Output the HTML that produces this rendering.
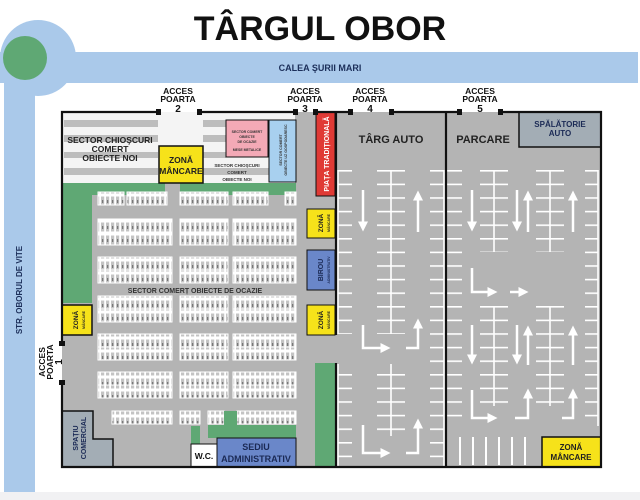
<!DOCTYPE html>
<html><head><meta charset="utf-8"><style>
html,body{margin:0;padding:0;background:#fff;}
svg{display:block;font-family:"Liberation Sans",sans-serif;font-weight:bold;}
</style></head><body>
<svg width="640" height="500" viewBox="0 0 640 500" xmlns="http://www.w3.org/2000/svg">
<defs>
<pattern id="stub" patternUnits="userSpaceOnUse" width="200" height="13.6" y="170"><rect x="0" y="0" width="200" height="1.6" fill="#fff"/></pattern>
<pattern id="stall" patternUnits="userSpaceOnUse" width="5" height="13"><rect width="5" height="13" fill="#fff"/><rect x="1" y="1.5" width="3.2" height="10" fill="#c4c4c4"/><rect x="2.2" y="5" width="1" height="3" fill="#666"/></pattern>
<marker id="ah" markerWidth="4" markerHeight="4" refX="1" refY="2" orient="auto" markerUnits="strokeWidth"><path d="M0,0 L4,2 L0,4z" fill="#fff"/></marker>
</defs>
<rect width="640" height="500" fill="#fff"/>
<rect x="0" y="492" width="640" height="8" fill="#f1f1f3"/>
<!-- roads -->
<rect x="0" y="52" width="638" height="31" fill="#aac9ea"/>
<rect x="4" y="50" width="31" height="442" fill="#aac9ea"/>
<circle cx="38" cy="58" r="38" fill="#aac9ea"/>
<circle cx="25" cy="58" r="22" fill="#5fa874"/>
<text x="320" y="40" font-size="34" text-anchor="middle" fill="#111">TÂRGUL OBOR</text>
<text x="320" y="71" font-size="9" text-anchor="middle" fill="#1c2f5a">CALEA ŞURII MARI</text>
<text transform="translate(22,290) rotate(-90)" font-size="8" text-anchor="middle" fill="#1c2f5a">STR. OBORUL DE VITE</text>

<!-- ground -->
<rect x="62" y="112" width="539" height="355" fill="#b4b4b4"/>
<rect x="62" y="112" width="233" height="71" fill="#f4f4f4"/>
<g fill="#bdbdbd">
<rect x="64" y="120" width="94" height="7"/><rect x="64" y="135" width="94" height="7"/><rect x="64" y="152" width="94" height="6"/><rect x="64" y="168" width="94" height="7"/>
<rect x="203" y="120" width="23" height="7"/><rect x="203" y="135" width="23" height="7"/><rect x="203" y="152" width="23" height="6"/><rect x="203" y="168" width="66" height="7"/>
</g>
<rect x="62" y="183" width="253" height="12" fill="#5fa874"/>
<rect x="165" y="183" width="15" height="12" fill="#b4b4b4"/>
<rect x="62" y="183" width="30" height="120" fill="#5fa874"/>
<rect x="296" y="112" width="19" height="355" fill="#b4b4b4"/>
<rect x="315" y="363" width="20" height="104" fill="#5fa874"/>

<text x="110" y="143" font-size="8.5" text-anchor="middle" fill="#222">SECTOR CHIOŞCURI</text>
<text x="110" y="152" font-size="8.5" text-anchor="middle" fill="#222">COMERT</text>
<text x="110" y="161" font-size="8.5" text-anchor="middle" fill="#222">OBIECTE NOI</text>
<text x="237" y="167" font-size="4.5" text-anchor="middle" fill="#333">SECTOR CHIOŞCURI</text>
<text x="237" y="174" font-size="4.5" text-anchor="middle" fill="#333">COMERT</text>
<text x="237" y="181" font-size="4.5" text-anchor="middle" fill="#333">OBIECTE NOI</text>

<rect x="159" y="146" width="44" height="37" fill="#f6e21a" stroke="#111" stroke-width="1.5"/>
<text x="181" y="163" font-size="8.5" text-anchor="middle" fill="#222">ZONĂ</text>
<text x="181" y="174" font-size="8.5" text-anchor="middle" fill="#222">MÂNCARE</text>
<rect x="226" y="120" width="42" height="37" fill="#f3a9b6" stroke="#111" stroke-width="1"/>
<text x="247" y="133" font-size="3.5" text-anchor="middle" fill="#333">SECTOR COMERT</text>
<text x="247" y="138" font-size="3.5" text-anchor="middle" fill="#333">OBIECTE</text>
<text x="247" y="143" font-size="3.5" text-anchor="middle" fill="#333">DE OCAZIE</text>
<text x="247" y="151" font-size="3.5" text-anchor="middle" fill="#333">MESE METALICE</text>
<rect x="269" y="120" width="27" height="62" fill="#a8d0ef" stroke="#111" stroke-width="1"/>
<text transform="translate(282,150) rotate(-90)" font-size="3.6" text-anchor="middle" fill="#333">SECTOR COMERT</text>
<text transform="translate(287,150) rotate(-90)" font-size="3.6" text-anchor="middle" fill="#333">OBIECTE UZ GOSPODARESC</text>

<rect x="316" y="112" width="19" height="84" fill="#e03a35" stroke="#111" stroke-width="1"/>
<text transform="translate(329,154) rotate(-90)" font-size="7" text-anchor="middle" fill="#fff">PIAȚA TRADIȚIONALĂ</text>
<rect x="307" y="209" width="28" height="29" fill="#f6e21a" stroke="#111" stroke-width="1"/>
<text transform="translate(323,223) rotate(-90)" font-size="6.5" text-anchor="middle" fill="#222">ZONĂ</text>
<text transform="translate(330,223) rotate(-90)" font-size="3.5" text-anchor="middle" fill="#222">MÂNCARE</text>
<rect x="307" y="250" width="28" height="40" fill="#6a87c9" stroke="#111" stroke-width="1"/>
<text transform="translate(323,270) rotate(-90)" font-size="7" text-anchor="middle" fill="#1b2a55">BIROU</text>
<text transform="translate(330,270) rotate(-90)" font-size="3.5" text-anchor="middle" fill="#1b2a55">ADMINISTRATIV</text>
<rect x="307" y="305" width="28" height="30" fill="#f6e21a" stroke="#111" stroke-width="1"/>
<text transform="translate(323,320) rotate(-90)" font-size="6.5" text-anchor="middle" fill="#222">ZONĂ</text>
<text transform="translate(330,320) rotate(-90)" font-size="3.5" text-anchor="middle" fill="#222">MÂNCARE</text>
<rect x="62" y="305" width="30" height="30" fill="#f6e21a" stroke="#111" stroke-width="1.5"/>
<text transform="translate(78,320) rotate(-90)" font-size="6.5" text-anchor="middle" fill="#222">ZONĂ</text>
<text transform="translate(85,320) rotate(-90)" font-size="3.5" text-anchor="middle" fill="#222">MÂNCARE</text>

<!-- stalls -->
<g fill="url(#stall)" stroke="#fff" stroke-width="1">
<rect x="98" y="192" width="26" height="13"/><rect x="127" y="192" width="40" height="13"/><rect x="180" y="192" width="48" height="13"/><rect x="233" y="192" width="35" height="13"/><rect x="285" y="192" width="11" height="13"/>
<rect x="98" y="219" width="74" height="13"/><rect x="98" y="232" width="74" height="13"/><rect x="180" y="219" width="48" height="13"/><rect x="180" y="232" width="48" height="13"/><rect x="233" y="219" width="63" height="13"/><rect x="233" y="232" width="63" height="13"/>
<rect x="98" y="257" width="74" height="13"/><rect x="98" y="270" width="74" height="13"/><rect x="180" y="257" width="48" height="13"/><rect x="180" y="270" width="48" height="13"/><rect x="233" y="257" width="63" height="13"/><rect x="233" y="270" width="63" height="13"/>
<rect x="98" y="296" width="74" height="13"/><rect x="98" y="309" width="74" height="13"/><rect x="180" y="296" width="48" height="13"/><rect x="180" y="309" width="48" height="13"/><rect x="233" y="296" width="63" height="13"/><rect x="233" y="309" width="63" height="13"/>
<rect x="98" y="334" width="74" height="13"/><rect x="98" y="347" width="74" height="13"/><rect x="180" y="334" width="48" height="13"/><rect x="180" y="347" width="48" height="13"/><rect x="233" y="334" width="63" height="13"/><rect x="233" y="347" width="63" height="13"/>
<rect x="98" y="372" width="74" height="13"/><rect x="98" y="385" width="74" height="13"/><rect x="180" y="372" width="48" height="13"/><rect x="180" y="385" width="48" height="13"/><rect x="233" y="372" width="63" height="13"/><rect x="233" y="385" width="63" height="13"/>
<rect x="112" y="411" width="60" height="13"/><rect x="180" y="411" width="20" height="13"/><rect x="208" y="411" width="16" height="13"/><rect x="237" y="411" width="59" height="13"/>
</g>
<text x="195" y="293" font-size="7" text-anchor="middle" fill="#333">SECTOR COMERȚ OBIECTE DE OCAZIE</text>

<!-- bottom left -->
<rect x="191" y="426" width="9" height="18" fill="#5fa874"/>
<rect x="224" y="411" width="13" height="15" fill="#5fa874"/>
<rect x="208" y="425" width="88" height="13" fill="#5fa874"/>
<path d="M62,411 H93 V439 H113 V467 H62 Z" fill="#a3adb5" stroke="#111" stroke-width="1.5"/>
<text transform="translate(78,438) rotate(-90)" font-size="7" text-anchor="middle" fill="#1b2a55">SPAȚIU</text>
<text transform="translate(86,438) rotate(-90)" font-size="7" text-anchor="middle" fill="#1b2a55">COMERCIAL</text>
<rect x="191" y="444" width="26" height="23" fill="#fff" stroke="#111" stroke-width="1"/>
<text x="204" y="459" font-size="8.5" text-anchor="middle" fill="#111">W.C.</text>
<rect x="217" y="438" width="79" height="29" fill="#6a87c9" stroke="#111" stroke-width="1"/>
<text x="256" y="450" font-size="9" text-anchor="middle" fill="#1b2a55">SEDIU</text>
<text x="256" y="462" font-size="9" text-anchor="middle" fill="#1b2a55">ADMINISTRATIV</text>

<!-- Targ auto / parcare -->
<rect x="519" y="112" width="82" height="35" fill="#a3adb5" stroke="#111" stroke-width="1.5"/>
<text x="560" y="127" font-size="8" text-anchor="middle" fill="#1b2a55">SPĂLĂTORIE</text>
<text x="560" y="136" font-size="8" text-anchor="middle" fill="#1b2a55">AUTO</text>
<text x="391" y="143" font-size="11" text-anchor="middle" fill="#222">TÂRG AUTO</text>
<text x="483" y="143" font-size="11" text-anchor="middle" fill="#222">PARCARE</text>

<g fill="url(#stub)">
<rect x="338" y="170" width="14" height="164"/><rect x="338" y="364" width="14" height="102"/>
<rect x="377" y="170" width="28" height="164"/><rect x="377" y="364" width="28" height="72"/>
<rect x="430" y="170" width="14" height="296"/>
<rect x="447" y="170" width="15" height="250"/>
<rect x="480" y="170" width="28" height="82"/><rect x="480" y="306" width="28" height="100"/>
<rect x="536" y="170" width="28" height="82"/><rect x="536" y="306" width="28" height="100"/>
<rect x="585" y="170" width="13" height="256"/>
</g>
<g stroke="#fff" stroke-width="1.6">
<line x1="338" y1="170" x2="338" y2="334"/><line x1="338" y1="364" x2="338" y2="466"/>
<line x1="391" y1="170" x2="391" y2="334"/><line x1="391" y1="364" x2="391" y2="436"/>
<line x1="444" y1="170" x2="444" y2="466"/>
<line x1="494" y1="170" x2="494" y2="252"/><line x1="494" y1="306" x2="494" y2="406"/>
<line x1="550" y1="170" x2="550" y2="252"/><line x1="550" y1="306" x2="550" y2="406"/>
<line x1="598" y1="170" x2="598" y2="426"/>
</g>
<g stroke="#fff" stroke-width="2">
<line x1="460" y1="437" x2="460" y2="465"/><line x1="473" y1="437" x2="473" y2="465"/><line x1="486" y1="437" x2="486" y2="465"/><line x1="499" y1="437" x2="499" y2="465"/><line x1="512" y1="437" x2="512" y2="465"/><line x1="525" y1="437" x2="525" y2="465"/>
</g>
<g stroke="#fff" stroke-width="2.5" fill="none" marker-end="url(#ah)">
<path d="M363,190 V224"/><path d="M418,232 V198"/>
<path d="M363,325 V348 H383"/><path d="M406,348 H418 V326"/>
<path d="M363,425 V453 H383"/><path d="M406,453 H418 V426"/>
<path d="M472,190 V224"/><path d="M517,190 V224"/><path d="M528,232 V198"/><path d="M573,232 V198"/>
<path d="M472,268 V292 H490"/><path d="M510,292 H521"/>
<path d="M472,325 V357"/><path d="M517,325 V357"/><path d="M528,365 V333"/><path d="M573,365 V333"/>
<path d="M472,390 V418 H490"/><path d="M515,418 H528 V396"/><path d="M562,418 H573 V396"/>
</g>
<rect x="542" y="437" width="59" height="30" fill="#f6e21a" stroke="#111" stroke-width="1.5"/>
<text x="571" y="450" font-size="8" text-anchor="middle" fill="#222">ZONĂ</text>
<text x="571" y="460" font-size="8" text-anchor="middle" fill="#222">MÂNCARE</text>

<!-- walls -->
<g stroke="#111" stroke-width="2.2" fill="none">
<path d="M158,112 H62 V343"/><path d="M62,382 V467 H601 V112 H500"/>
<path d="M199,112 H295"/><path d="M315,112 H350"/><path d="M391,112 H459"/>
<path d="M336,112 V335"/><path d="M336,363 V467"/><path d="M446,112 V467"/>
</g>
<g fill="#111">
<rect x="156" y="109" width="5" height="6"/><rect x="197" y="109" width="5" height="6"/>
<rect x="293" y="109" width="5" height="6"/><rect x="313" y="109" width="5" height="6"/>
<rect x="348" y="109" width="5" height="6"/><rect x="389" y="109" width="5" height="6"/>
<rect x="457" y="109" width="5" height="6"/><rect x="498" y="109" width="5" height="6"/>
<rect x="59" y="341" width="6" height="5"/><rect x="59" y="380" width="6" height="5"/>
</g>
<g font-size="8.5" text-anchor="middle" fill="#111">
<text x="178" y="94">ACCES</text><text x="178" y="102">POARTA</text><text x="178" y="112" font-size="10">2</text>
<text x="305" y="94">ACCES</text><text x="305" y="102">POARTA</text><text x="305" y="112" font-size="10">3</text>
<text x="370" y="94">ACCES</text><text x="370" y="102">POARTA</text><text x="370" y="112" font-size="10">4</text>
<text x="480" y="94">ACCES</text><text x="480" y="102">POARTA</text><text x="480" y="112" font-size="10">5</text>
<text transform="translate(45,362) rotate(-90)">ACCES</text>
<text transform="translate(53,362) rotate(-90)">POARTA</text>
<text transform="translate(62,362) rotate(-90)" font-size="10">1</text>
</g>
</svg>
</body></html>
